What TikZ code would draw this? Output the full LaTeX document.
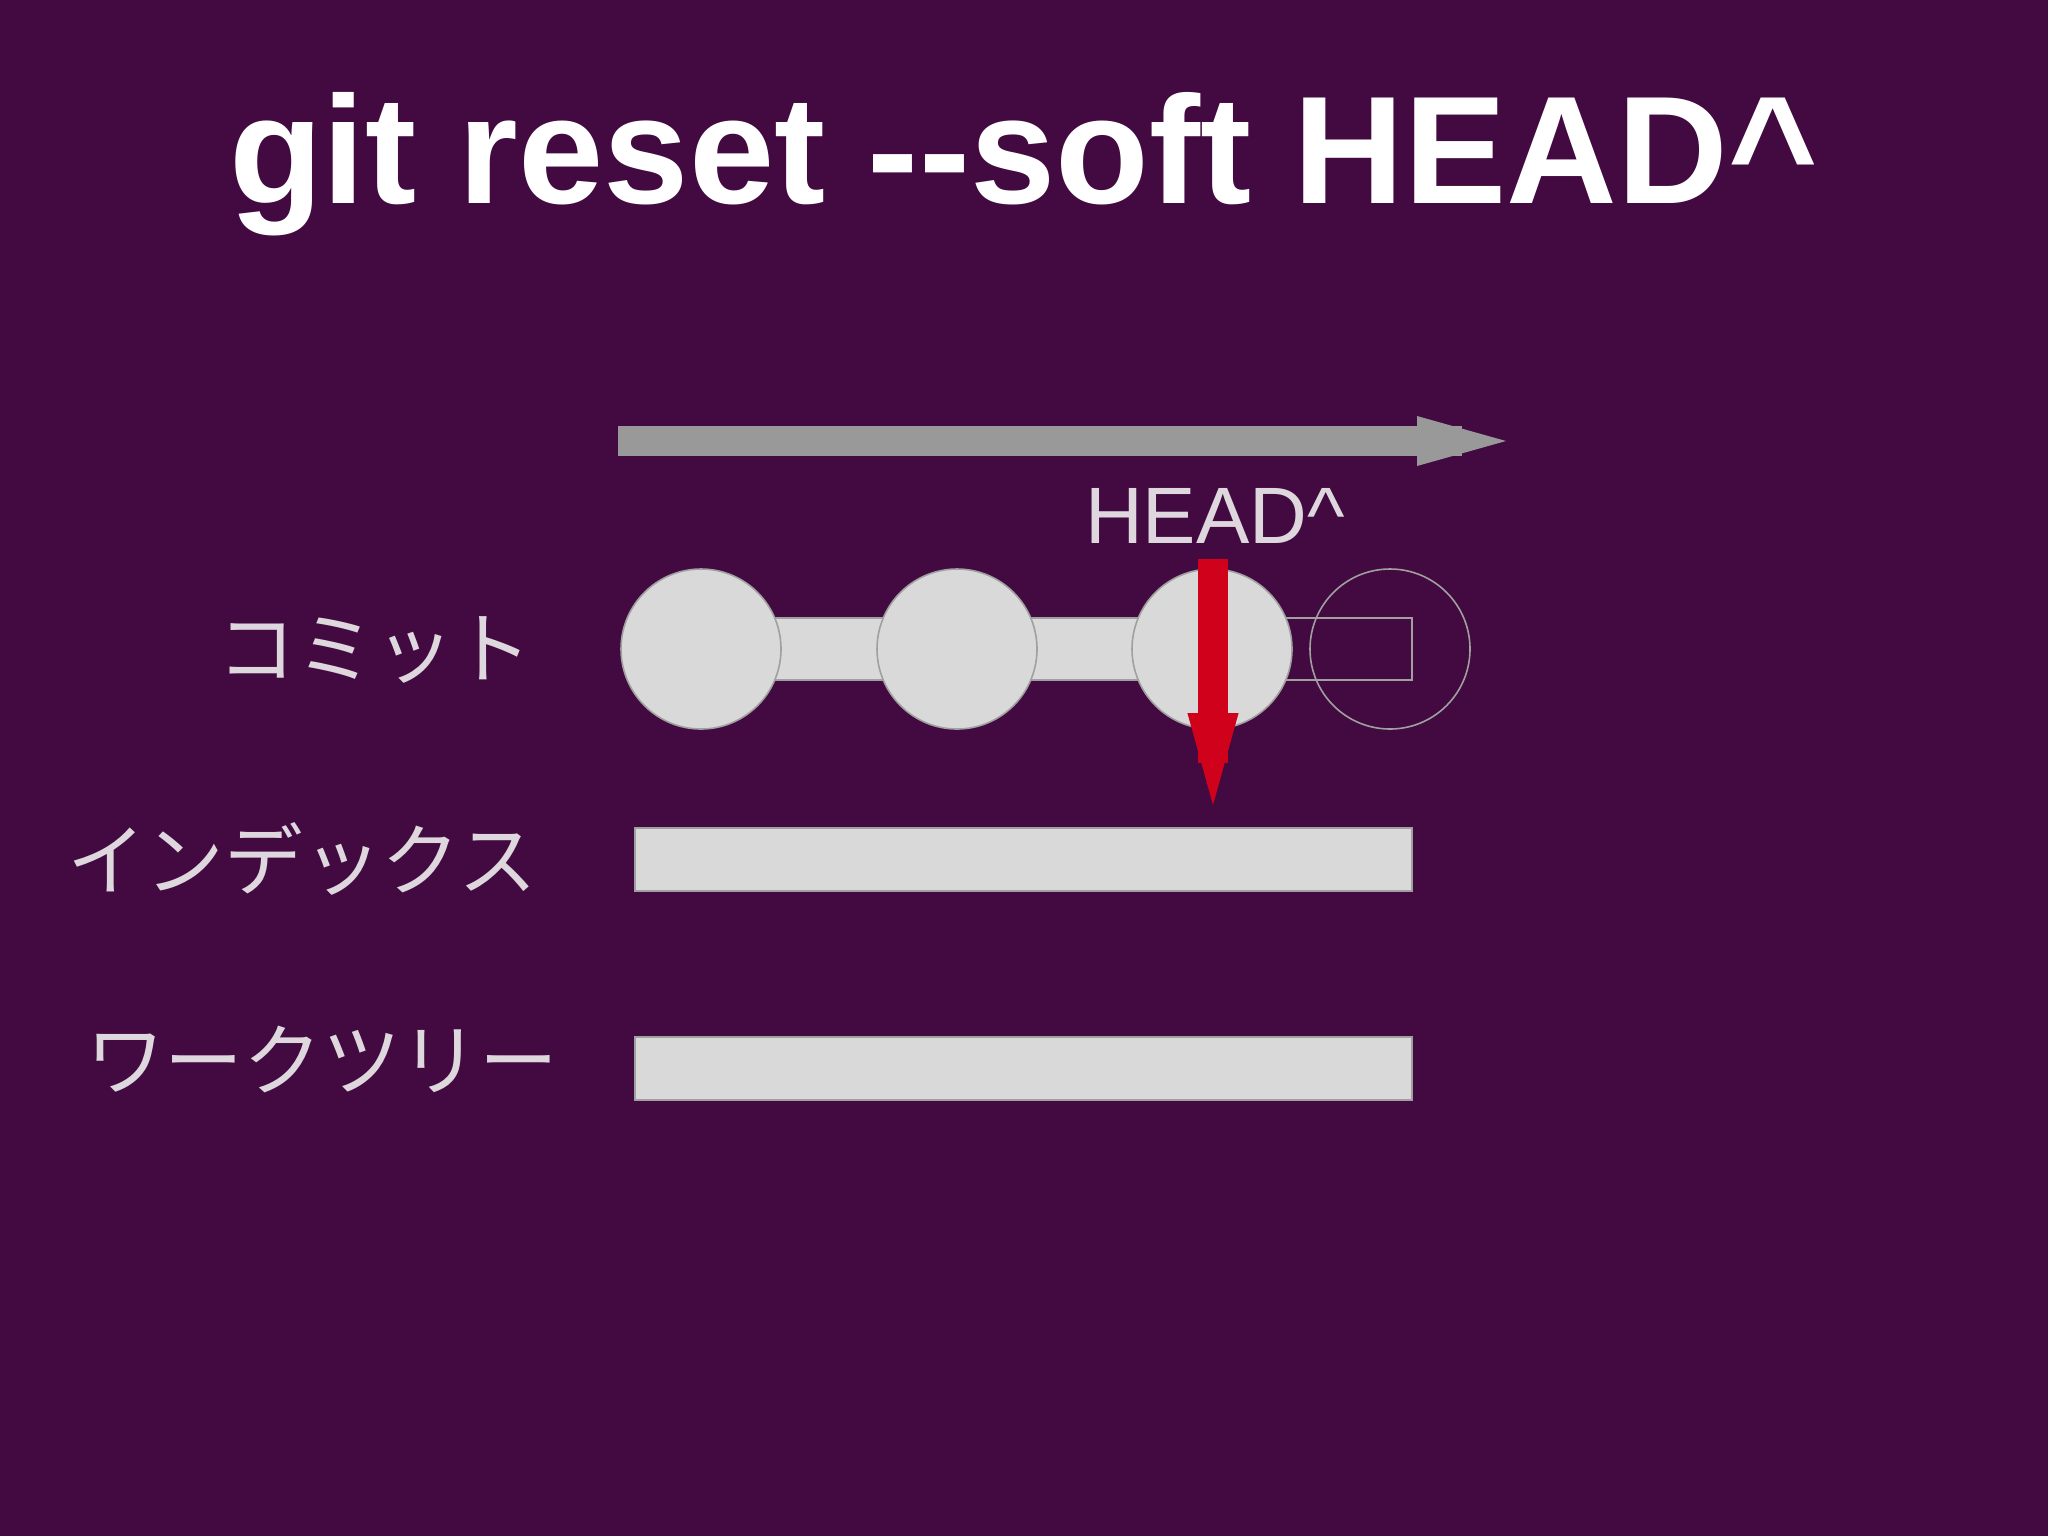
\documentclass[tikz,border=0pt]{standalone}
\usepackage{fontspec}
\setmainfont{Liberation Sans}
\newfontfamily\jafont{Noto Sans CJK JP}

\definecolor{bgpurple}{RGB}{66,10,64}
\definecolor{timegray}{RGB}{153,153,153}
\definecolor{nodegray}{RGB}{217,217,217}
\definecolor{edgegray}{RGB}{160,160,160}
\definecolor{labelgray}{RGB}{222,216,222}
\definecolor{headred}{RGB}{208,2,27}

\tikzset{every picture/.style={line width=0.75pt}}
\tikzset{
	commit/.style={circle, fill=nodegray, draw=edgegray, line width=0.6pt, minimum size=60pt, inner sep=0pt},
	ghost/.style={circle, draw=edgegray, line width=0.6pt, minimum size=60pt, inner sep=0pt},
	area/.style={rectangle, fill=nodegray, draw=edgegray, line width=0.6pt, minimum width=291.4pt, minimum height=23.6pt, inner sep=0pt},
	rowlabel/.style={font=\jafont\fontsize{29.5pt}{31pt}\selectfont, text=labelgray, inner sep=0pt}
}

\begin{document}
\begin{tikzpicture}[x=0.375pt,y=0.375pt,yscale=-1,xscale=1]
	% background, sets the picture size
	\fill[bgpurple] (0,0) rectangle (2048,1536);
	
	% Title
	\node [anchor=base, inner sep=0pt, text=white, font=\bfseries\fontsize{57.5pt}{60pt}\selectfont] (title) at (1023.5,203) {git reset -{}-soft HEAD\textasciicircum};
	
	% Time arrow
	\fill[timegray] (618,426) rectangle (1462,456);
	\fill[timegray] (1417,416) -- (1506,441) -- (1417,466) -- cycle;
	
	% Commit positions
	\coordinate (p1) at (701,649);
	\coordinate (p2) at (957,649);
	\coordinate (p3) at (1212,649);
	\coordinate (p4) at (1390,649);
	\coordinate (tail) at (1412,649);
	
	% links between commits
	\draw[edgegray, line width=0.6pt] ([yshift=11.6pt]p3) rectangle ([yshift=-11.6pt]tail);
	\draw[fill=nodegray, draw=edgegray, line width=0.6pt] ([yshift=11.6pt]p1) rectangle ([yshift=-11.6pt]p3);
	
	% Commits
	\node [commit] (c1) at (p1) {};
	\node [commit] (c2) at (p2) {};
	\node [commit] (c3) at (p3) {};
	\node [ghost] (c4) at (p4) {};
	
	% Index and work tree
	\node [area] (index) at (1023.5,859.5) {};
	\node [area] (worktree) at (1023.5,1068.5) {};
	
	% Row labels
	\node [rowlabel] (lcommit) at (375,650) {コミット};
	\node [rowlabel] (lindex) at (302,859) {インデックス};
	\node [rowlabel] (ltree) at (322,1059) {ワークツリー};
	
	% HEAD^ pointer
	\node [anchor=base west, inner sep=0pt, text=labelgray, font=\fontsize{30pt}{32pt}\selectfont] (head) at (1084,543) {HEAD\textasciicircum};
	\coordinate (hstart) at (1213,559);
	\coordinate (hend) at (1213,805);
	\fill[headred] ([xshift=-5.8pt]hstart) rectangle ([xshift=5.8pt,yshift=-15.8pt]hend);
	\fill[headred] ([xshift=-9.6pt,yshift=-34.5pt]hend) -- ([xshift=9.6pt,yshift=-34.5pt]hend) -- (hend) -- cycle;
	
\end{tikzpicture}
\end{document}
